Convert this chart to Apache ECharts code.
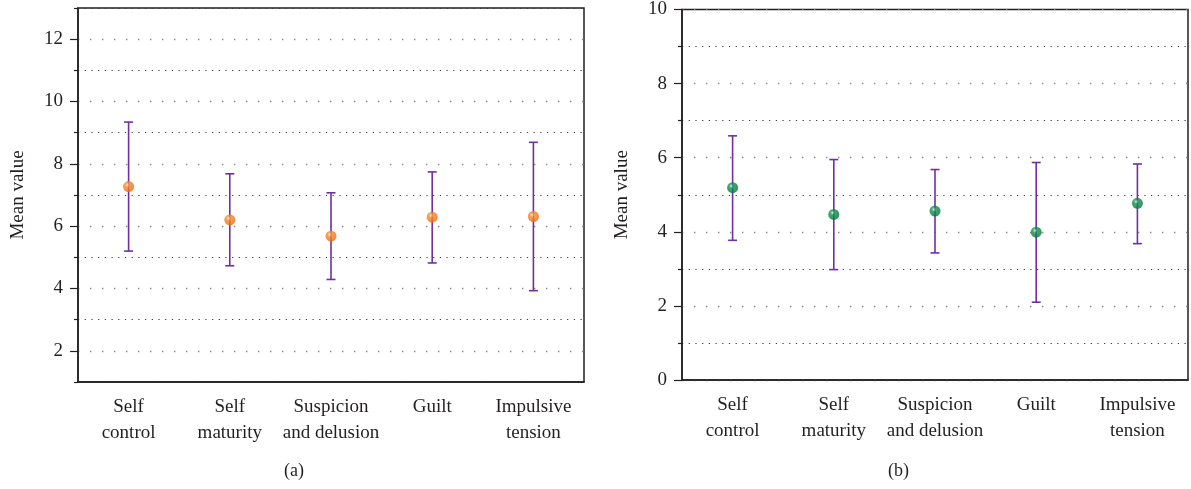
<!DOCTYPE html>
<html>
<head>
<meta charset="utf-8">
<script src="https://cdn.jsdelivr.net/npm/echarts@6/dist/echarts.min.js"></script>
<style>
  html, body { margin: 0; padding: 0; background: #fff; }
  #chart { width: 1191px; height: 489px; }
</style>
</head>
<body>
<div id="chart"></div>
<script>
// categories shared by both panels
const categories = ['Self\ncontrol', 'Self\nmaturity', 'Suspicion\nand delusion', 'Guilt', 'Impulsive\ntension'];

// panel (a)
const meanA = [7.27, 6.20, 5.68, 6.29, 6.31];
const lowA = [5.20, 4.73, 4.29, 4.82, 3.93];
const highA = [9.34, 7.68, 7.07, 7.74, 8.69];

// panel (b)
const meanB = [5.19, 4.47, 4.56, 3.99, 4.77];
const lowB = [3.77, 2.98, 3.43, 2.10, 3.68];
const highB = [6.59, 5.95, 5.68, 5.87, 5.83];

const yRangeA = [1, 13];
const yRangeB = [0, 10];
const captions = ['(a)', '(b)'];

const font = '"Liberation Serif", "DejaVu Serif", serif';
const ink = '#231f20';
const barColor = '#7030a0';

const sparseDots = { color: '#8a8a8a', width: 1.4, type: [1.4, 10.6] };
const denseDots = { color: '#3a3a3a', width: 1.2, type: [1.2, 5.5] };

const orange = new echarts.graphic.RadialGradient(0.38, 0.35, 0.7, [
    { offset: 0, color: '#ffe3c4' },
    { offset: 0.3, color: '#f7892a' },
    { offset: 1, color: '#e8680c' }
]);
const green = new echarts.graphic.RadialGradient(0.38, 0.35, 0.7, [
    { offset: 0, color: '#bfe8d2' },
    { offset: 0.3, color: '#0d9150' },
    { offset: 1, color: '#05733a' }
]);

const barData = (low, high) => low.map((v, i) => [i, v, high[i]]);

const renderErrorBar = (params, api) => {
    const x = api.value(0);
    const lo = api.coord([x, api.value(1)]);
    const hi = api.coord([x, api.value(2)]);
    const w = 4.5;
    const style = { stroke: barColor, lineWidth: 1.6 };
    return {
        type: 'group',
        children: [
            { type: 'line', shape: { x1: lo[0], y1: hi[1], x2: lo[0], y2: lo[1] }, style: style },
            { type: 'line', shape: { x1: lo[0] - w, y1: hi[1], x2: lo[0] + w, y2: hi[1] }, style: style },
            { type: 'line', shape: { x1: lo[0] - w, y1: lo[1], x2: lo[0] + w, y2: lo[1] }, style: style }
        ]
    };
};

const xAxisFor = (gridIndex) => ({
    type: 'category',
    gridIndex: gridIndex,
    data: categories,
    boundaryGap: true,
    axisLine: { lineStyle: { color: ink, width: 1.5 } },
    axisTick: { alignWithLabel: true, length: 6, lineStyle: { color: ink, width: 1.2 } },
    axisLabel: { interval: 0, color: ink, fontFamily: font, fontSize: 19, lineHeight: 26, margin: 12 },
    splitLine: { show: false }
});

const nameStyle = { color: ink, fontFamily: font, fontSize: 19 };

const chart = echarts.init(document.getElementById('chart'));
chart.setOption({
    animation: false,
    grid: [
        { left: 78, top: 8, width: 506, height: 374, show: true, borderColor: ink, borderWidth: 1.5 },
        { left: 682, top: 7, width: 506, height: 373, show: true, borderColor: ink, borderWidth: 1.5 }
    ],
    xAxis: [xAxisFor(0), xAxisFor(1)],
    yAxis: [
        // (a) ticks start at min: odd values get the short ticks, even values are the minor ones
        {
            type: 'value', gridIndex: 0, position: 'left', min: yRangeA[0], max: yRangeA[1], interval: 2,
            axisLine: { show: true, lineStyle: { color: ink, width: 1.5 } },
            axisTick: { show: true, length: 4, lineStyle: { color: ink, width: 1.2 } },
            axisLabel: { show: false },
            splitLine: { show: true, lineStyle: denseDots },
            minorTick: { show: true, splitNumber: 2, length: 8, lineStyle: { color: ink, width: 1.2 } },
            minorSplitLine: { show: true, lineStyle: sparseDots }
        },
        // (a) labels only
        {
            type: 'value', gridIndex: 0, position: 'left', offset: 0, min: yRangeA[0], max: yRangeA[1], interval: 1,
            axisLine: { show: false }, axisTick: { show: false }, splitLine: { show: false },
            axisLabel: {
                color: ink, fontFamily: font, fontSize: 19, margin: 15,
                formatter: (v) => (v % 2 === 0 ? String(v) : '')
            },
            name: 'Mean value', nameLocation: 'middle', nameGap: 50, nameTextStyle: nameStyle
        },
        // (b)
        {
            type: 'value', gridIndex: 1, position: 'left', min: yRangeB[0], max: yRangeB[1], interval: 2,
            axisLine: { show: true, lineStyle: { color: ink, width: 1.5 } },
            axisTick: { show: true, length: 8, lineStyle: { color: ink, width: 1.2 } },
            axisLabel: { color: ink, fontFamily: font, fontSize: 19, margin: 15 },
            splitLine: { show: true, lineStyle: sparseDots },
            minorTick: { show: true, splitNumber: 2, length: 4, lineStyle: { color: ink, width: 1.2 } },
            minorSplitLine: { show: true, lineStyle: denseDots },
            name: 'Mean value', nameLocation: 'middle', nameGap: 50, nameTextStyle: nameStyle
        }
    ],
    series: [
        {
            type: 'custom', xAxisIndex: 0, yAxisIndex: 0,
            renderItem: renderErrorBar, encode: { x: 0, y: [1, 2] },
            data: barData(lowA, highA), z: 3
        },
        {
            type: 'scatter', xAxisIndex: 0, yAxisIndex: 0,
            data: meanA, symbolSize: 11,
            itemStyle: { color: orange }, z: 4
        },
        {
            type: 'custom', xAxisIndex: 1, yAxisIndex: 2,
            renderItem: renderErrorBar, encode: { x: 0, y: [1, 2] },
            data: barData(lowB, highB), z: 3
        },
        {
            type: 'scatter', xAxisIndex: 1, yAxisIndex: 2,
            data: meanB, symbolSize: 11,
            itemStyle: { color: green }, z: 4
        }
    ],
    graphic: [
        { type: 'text', left: 284, top: 462, style: { text: captions[0], font: '18px ' + font, fill: ink } },
        { type: 'text', left: 888, top: 462, style: { text: captions[1], font: '18px ' + font, fill: ink } }
    ]
});
</script>
</body>
</html>
